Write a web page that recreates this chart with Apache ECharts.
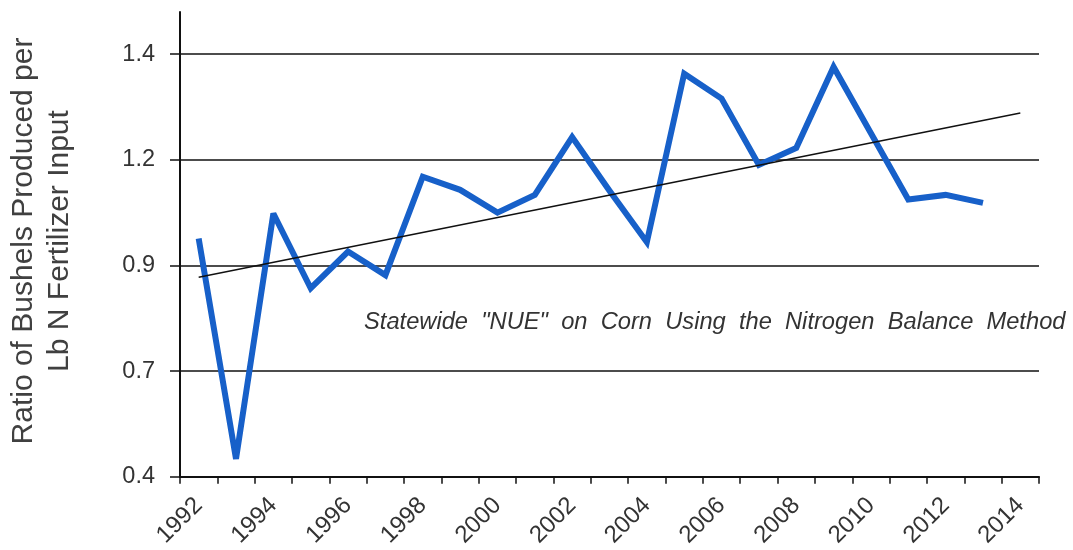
<!DOCTYPE html>
<html>
<head>
<meta charset="utf-8">
<script src="https://cdn.jsdelivr.net/npm/echarts@6/dist/echarts.min.js"></script>
<style>
html,body{margin:0;padding:0;background:#fff;}
#chart{width:1073px;height:550px;}
</style>
</head>
<body>
<div id="chart"></div>
<script>
var years = ['1992','1993','1994','1995','1996','1997','1998','1999','2000','2001','2002','2003','2004','2005','2006','2007','2008','2009','2010','2011','2012','2013','2014'];
var nueValues = [0.964, 0.442, 1.023, 0.846, 0.933, 0.877, 1.110, 1.079, 1.025, 1.067, 1.204, 1.077, 0.955, 1.354, 1.295, 1.138, 1.178, 1.370, 1.213, 1.056, 1.067, 1.048];
var trendYears = ['1992', '2014'];
var trendValues = [0.872, 1.261];
var yTicks = [0.4, 0.65, 0.9, 1.15, 1.4];
var yTickLabels = ['0.4', '0.7', '0.9', '1.2', '1.4'];
var yTitle = 'Ratio of Bushels Produced per\nLb N Fertilizer Input';
var noteText = 'Statewide  "NUE"  on  Corn  Using  the  Nitrogen  Balance  Method';

var FONT = '"Liberation Sans", Arial, sans-serif';
var chart = echarts.init(document.getElementById('chart'), null, {renderer: 'canvas'});

var trendData = trendYears.map(function (y, i) { return [y, trendValues[i]]; });

var option = {
  animation: false,
  backgroundColor: '#fff',
  grid: {left: 180, right: 34, top: 12, bottom: 70, containLabel: false},
  xAxis: {
    type: 'category',
    data: years,
    boundaryGap: true,
    axisLine: {show: true, lineStyle: {color: '#111', width: 2}},
    axisTick: {show: true, interval: 0, alignWithLabel: false, length: 7, lineStyle: {color: '#111', width: 1.5}},
    axisLabel: {
      interval: 1, rotate: 45, margin: 25,
      fontFamily: FONT, fontSize: 24, color: '#333'
    },
    splitLine: {show: false}
  },
  yAxis: {
    type: 'value',
    min: 0.4, max: 1.5,
    axisLine: {show: true, lineStyle: {color: '#111', width: 2}},
    axisTick: {show: true, length: 10, customValues: yTicks, lineStyle: {color: '#111', width: 1.5}},
    axisLabel: {
      customValues: yTicks,
      margin: 25,
      fontFamily: FONT, fontSize: 23.5, color: '#333',
      formatter: function (v) {
        var best = 0;
        for (var i = 1; i < yTicks.length; i++) {
          if (Math.abs(yTicks[i] - v) < Math.abs(yTicks[best] - v)) best = i;
        }
        return yTickLabels[best];
      }
    },
    splitLine: {show: true, lineStyle: {color: '#111', width: 1.5}}
  },
  series: [
    {
      name: 'NUE',
      type: 'line',
      data: nueValues,
      showSymbol: false,
      symbol: 'none',
      lineStyle: {color: '#1760c9', width: 6, join: 'miter', miterLimit: 3, cap: 'butt'},
      z: 3
    },
    {
      name: 'Trend',
      type: 'line',
      data: trendData,
      showSymbol: false,
      symbol: 'none',
      lineStyle: {color: '#111', width: 1.4},
      z: 4
    }
  ],
  graphic: [
    {
      type: 'text',
      x: 42, y: 241,
      rotation: Math.PI / 2,
      style: {
        text: yTitle,
        fontFamily: FONT, fontSize: 30, lineHeight: 36,
        fill: '#404040',
        textAlign: 'center', textVerticalAlign: 'middle'
      }
    },
    {
      type: 'text',
      x: 364, y: 322,
      style: {
        text: noteText,
        fontFamily: FONT, fontSize: 23.7, fontStyle: 'italic',
        fill: '#333',
        textAlign: 'left', textVerticalAlign: 'middle'
      },
      z: 10
    }
  ]
};
chart.setOption(option);
</script>
</body>
</html>
